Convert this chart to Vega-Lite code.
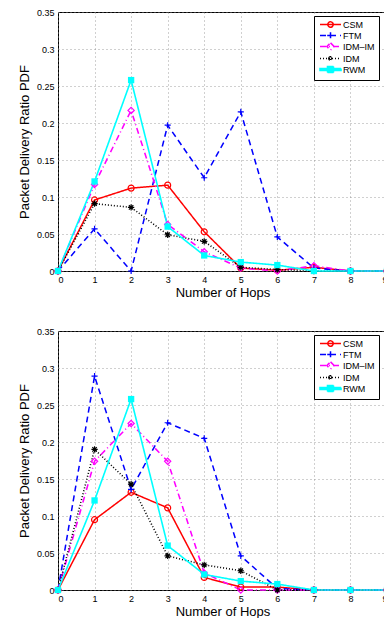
{
  "$schema": "https://vega.github.io/schema/vega-lite/v6.json",
  "autosize": {"type": "pad"},
  "padding": {"left": 17, "top": 7, "right": 0, "bottom": 0},
  "background": "white",
  "bounds": "flush",
  "spacing": 60,
  "datasets": {
    "top": [
      {"hops":0,"pdr":0,"model":"CSM"},{"hops":1,"pdr":0.096,"model":"CSM"},{"hops":2,"pdr":0.112,"model":"CSM"},{"hops":3,"pdr":0.116,"model":"CSM"},{"hops":4,"pdr":0.053,"model":"CSM"},{"hops":5,"pdr":0.004,"model":"CSM"},{"hops":6,"pdr":0.001,"model":"CSM"},{"hops":7,"pdr":0.005,"model":"CSM"},{"hops":8,"pdr":0,"model":"CSM"},{"hops":9,"pdr":0,"model":"CSM"},
      {"hops":0,"pdr":0,"model":"FTM"},{"hops":1,"pdr":0.057,"model":"FTM"},{"hops":2,"pdr":0,"model":"FTM"},{"hops":3,"pdr":0.197,"model":"FTM"},{"hops":4,"pdr":0.126,"model":"FTM"},{"hops":5,"pdr":0.215,"model":"FTM"},{"hops":6,"pdr":0.046,"model":"FTM"},{"hops":7,"pdr":0.004,"model":"FTM"},{"hops":8,"pdr":0,"model":"FTM"},{"hops":9,"pdr":0,"model":"FTM"},
      {"hops":0,"pdr":0,"model":"IDM–IM"},{"hops":1,"pdr":0.117,"model":"IDM–IM"},{"hops":2,"pdr":0.217,"model":"IDM–IM"},{"hops":3,"pdr":0.063,"model":"IDM–IM"},{"hops":4,"pdr":0.026,"model":"IDM–IM"},{"hops":5,"pdr":0.004,"model":"IDM–IM"},{"hops":6,"pdr":0,"model":"IDM–IM"},{"hops":7,"pdr":0.007,"model":"IDM–IM"},{"hops":8,"pdr":0,"model":"IDM–IM"},{"hops":9,"pdr":0,"model":"IDM–IM"},
      {"hops":0,"pdr":0,"model":"IDM"},{"hops":1,"pdr":0.091,"model":"IDM"},{"hops":2,"pdr":0.086,"model":"IDM"},{"hops":3,"pdr":0.049,"model":"IDM"},{"hops":4,"pdr":0.04,"model":"IDM"},{"hops":5,"pdr":0.005,"model":"IDM"},{"hops":6,"pdr":0.002,"model":"IDM"},{"hops":7,"pdr":0,"model":"IDM"},{"hops":8,"pdr":0,"model":"IDM"},{"hops":9,"pdr":0,"model":"IDM"},
      {"hops":0,"pdr":0,"model":"RWM"},{"hops":1,"pdr":0.121,"model":"RWM"},{"hops":2,"pdr":0.258,"model":"RWM"},{"hops":3,"pdr":0.06,"model":"RWM"},{"hops":4,"pdr":0.021,"model":"RWM"},{"hops":5,"pdr":0.012,"model":"RWM"},{"hops":6,"pdr":0.008,"model":"RWM"},{"hops":7,"pdr":0,"model":"RWM"},{"hops":8,"pdr":0,"model":"RWM"},{"hops":9,"pdr":0,"model":"RWM"}
    ],
    "bottom": [
      {"hops":0,"pdr":0,"model":"CSM"},{"hops":1,"pdr":0.095,"model":"CSM"},{"hops":2,"pdr":0.132,"model":"CSM"},{"hops":3,"pdr":0.111,"model":"CSM"},{"hops":4,"pdr":0.017,"model":"CSM"},{"hops":5,"pdr":0.004,"model":"CSM"},{"hops":6,"pdr":0.004,"model":"CSM"},{"hops":7,"pdr":0,"model":"CSM"},{"hops":8,"pdr":0,"model":"CSM"},{"hops":9,"pdr":0,"model":"CSM"},
      {"hops":0,"pdr":0,"model":"FTM"},{"hops":1,"pdr":0.289,"model":"FTM"},{"hops":2,"pdr":0.136,"model":"FTM"},{"hops":3,"pdr":0.226,"model":"FTM"},{"hops":4,"pdr":0.205,"model":"FTM"},{"hops":5,"pdr":0.046,"model":"FTM"},{"hops":6,"pdr":0.002,"model":"FTM"},{"hops":7,"pdr":0,"model":"FTM"},{"hops":8,"pdr":0,"model":"FTM"},{"hops":9,"pdr":0,"model":"FTM"},
      {"hops":0,"pdr":0,"model":"IDM–IM"},{"hops":1,"pdr":0.174,"model":"IDM–IM"},{"hops":2,"pdr":0.225,"model":"IDM–IM"},{"hops":3,"pdr":0.174,"model":"IDM–IM"},{"hops":4,"pdr":0.023,"model":"IDM–IM"},{"hops":5,"pdr":0,"model":"IDM–IM"},{"hops":6,"pdr":0,"model":"IDM–IM"},{"hops":7,"pdr":0,"model":"IDM–IM"},{"hops":8,"pdr":0,"model":"IDM–IM"},{"hops":9,"pdr":0,"model":"IDM–IM"},
      {"hops":0,"pdr":0,"model":"IDM"},{"hops":1,"pdr":0.19,"model":"IDM"},{"hops":2,"pdr":0.143,"model":"IDM"},{"hops":3,"pdr":0.046,"model":"IDM"},{"hops":4,"pdr":0.034,"model":"IDM"},{"hops":5,"pdr":0.026,"model":"IDM"},{"hops":6,"pdr":0,"model":"IDM"},{"hops":7,"pdr":0,"model":"IDM"},{"hops":8,"pdr":0,"model":"IDM"},{"hops":9,"pdr":0,"model":"IDM"},
      {"hops":0,"pdr":0,"model":"RWM"},{"hops":1,"pdr":0.121,"model":"RWM"},{"hops":2,"pdr":0.258,"model":"RWM"},{"hops":3,"pdr":0.06,"model":"RWM"},{"hops":4,"pdr":0.021,"model":"RWM"},{"hops":5,"pdr":0.012,"model":"RWM"},{"hops":6,"pdr":0.008,"model":"RWM"},{"hops":7,"pdr":0,"model":"RWM"},{"hops":8,"pdr":0,"model":"RWM"},{"hops":9,"pdr":0,"model":"RWM"}
    ]
  },
  "vconcat": [
    {
      "data": {"name": "top"},
      "width": 329, "height": 259,
      "encoding": {
        "x": {"field": "hops", "type": "quantitative", "scale": {"domain": [0, 9], "nice": false}, "axis": {"title": "Number of Hops", "values": [0,1,2,3,4,5,6,7,8,9], "format": "d"}},
        "y": {"field": "pdr", "type": "quantitative", "scale": {"domain": [0, 0.35], "nice": false}, "axis": {"title": "Packet Delivery Ratio PDF", "values": [0,0.05,0.1,0.15,0.2,0.25,0.3,0.35], "format": ".2~f"}}
      },
      "layer": [
        {
          "mark": {"type": "line"},
          "encoding": {
            "color": {"field": "model", "type": "nominal", "scale": {"domain": ["CSM","FTM","IDM–IM","IDM","RWM"], "range": ["#ff0000","#0000ff","#ff00ff","#000000","#00ffff"]},
              "legend": {"title": null, "orient": "none", "legendX": 256, "legendY": 4, "symbolSize": 36, "symbolStrokeWidth": 1.3, "labelOffset": 16, "rowPadding": -3.5,
                "encode": {"symbols": {"update": {
                  "shape": {"signal": "datum.value==='CSM'?'M-0.83,0L6.17,0M3.57,0A0.9,0.9 0 1,1 1.77,0A0.9,0.9 0 1,1 3.57,0':datum.value==='FTM'?'M-0.83,0L6.17,0M1.57,0L3.77,0M2.67,-1.1L2.67,1.1':datum.value==='IDM–IM'?'M-0.83,0L6.17,0M2.67,-1.2L3.87,0L2.67,1.2L1.47,0Z':datum.value==='IDM'?'M-0.83,0L6.17,0M1.87,0L3.47,0M2.67,-0.8L2.67,0.8M2.1,-0.57L3.24,0.57M2.1,0.57L3.24,-0.57':'M-0.83,-0.35L6.17,-0.35L6.17,0.35L-0.83,0.35ZM1.67,-1L3.67,-1L3.67,1L1.67,1Z'"},
                  "stroke": {"signal": "datum.value==='CSM'?'#ff0000':datum.value==='FTM'?'#0000ff':datum.value==='IDM–IM'?'#ff00ff':datum.value==='IDM'?'#000000':'#00ffff'"},
                  "strokeDash": {"signal": "datum.value==='FTM'?[5,3]:datum.value==='IDM–IM'?[5,2,1,2]:datum.value==='IDM'?[1,2]:[1,0]"},
                  "strokeWidth": {"value": 1.3},
                  "fill": {"signal": "datum.value==='RWM'?'#00ffff':'transparent'"},
                  "size": {"value": 36}
                }}}}},
            "strokeDash": {"field": "model", "type": "nominal", "scale": {"domain": ["CSM","FTM","IDM–IM","IDM","RWM"], "range": [[1,0],[6,4],[6,3,1,3],[1,2],[1,0]]}, "legend": null},
            "strokeWidth": {"field": "model", "type": "nominal", "scale": {"domain": ["CSM","FTM","IDM–IM","IDM","RWM"], "range": [1.5,1.6,1.3,0.7,3]}, "legend": null}
          }
        },
        {
          "transform": [{"filter": "datum.model !== 'RWM'"}],
          "mark": {"type": "point", "filled": false, "opacity": 1, "strokeWidth": 1.2},
          "encoding": {
            "stroke": {"field": "model", "type": "nominal", "scale": {"domain": ["CSM","FTM","IDM–IM","IDM"], "range": ["#ff0000","#0000ff","#ff00ff","#000000"]}, "legend": null},
            "shape": {"field": "model", "type": "nominal", "scale": {"domain": ["CSM","FTM","IDM–IM","IDM"], "range": ["circle","M-1,0L1,0M0,-1L0,1","diamond","M-1,0L1,0M0,-1L0,1M-0.7,-0.7L0.7,0.7M-0.7,0.7L0.7,-0.7"]}, "legend": null},
            "size": {"field": "model", "type": "nominal", "scale": {"domain": ["CSM","FTM","IDM–IM","IDM"], "range": [36,40,45,18]}, "legend": null}
          }
        },
        {
          "transform": [{"filter": "datum.model === 'RWM'"}],
          "mark": {"type": "point", "filled": true, "shape": "square", "size": 40, "opacity": 1, "color": "#00ffff"}
        }
      ]
    },
    {
      "data": {"name": "bottom"},
      "width": 329, "height": 259,
      "encoding": {
        "x": {"field": "hops", "type": "quantitative", "scale": {"domain": [0, 9], "nice": false}, "axis": {"title": "Number of Hops", "values": [0,1,2,3,4,5,6,7,8,9], "format": "d"}},
        "y": {"field": "pdr", "type": "quantitative", "scale": {"domain": [0, 0.35], "nice": false}, "axis": {"title": "Packet Delivery Ratio PDF", "values": [0,0.05,0.1,0.15,0.2,0.25,0.3,0.35], "format": ".2~f"}}
      },
      "layer": [
        {
          "mark": {"type": "line"},
          "encoding": {
            "color": {"field": "model", "type": "nominal", "scale": {"domain": ["CSM","FTM","IDM–IM","IDM","RWM"], "range": ["#ff0000","#0000ff","#ff00ff","#000000","#00ffff"]},
              "legend": {"title": null, "orient": "none", "legendX": 256, "legendY": 4, "symbolSize": 36, "symbolStrokeWidth": 1.3, "labelOffset": 16, "rowPadding": -3.5,
                "encode": {"symbols": {"update": {
                  "shape": {"signal": "datum.value==='CSM'?'M-0.83,0L6.17,0M3.57,0A0.9,0.9 0 1,1 1.77,0A0.9,0.9 0 1,1 3.57,0':datum.value==='FTM'?'M-0.83,0L6.17,0M1.57,0L3.77,0M2.67,-1.1L2.67,1.1':datum.value==='IDM–IM'?'M-0.83,0L6.17,0M2.67,-1.2L3.87,0L2.67,1.2L1.47,0Z':datum.value==='IDM'?'M-0.83,0L6.17,0M1.87,0L3.47,0M2.67,-0.8L2.67,0.8M2.1,-0.57L3.24,0.57M2.1,0.57L3.24,-0.57':'M-0.83,-0.35L6.17,-0.35L6.17,0.35L-0.83,0.35ZM1.67,-1L3.67,-1L3.67,1L1.67,1Z'"},
                  "stroke": {"signal": "datum.value==='CSM'?'#ff0000':datum.value==='FTM'?'#0000ff':datum.value==='IDM–IM'?'#ff00ff':datum.value==='IDM'?'#000000':'#00ffff'"},
                  "strokeDash": {"signal": "datum.value==='FTM'?[5,3]:datum.value==='IDM–IM'?[5,2,1,2]:datum.value==='IDM'?[1,2]:[1,0]"},
                  "strokeWidth": {"value": 1.3},
                  "fill": {"signal": "datum.value==='RWM'?'#00ffff':'transparent'"},
                  "size": {"value": 36}
                }}}}},
            "strokeDash": {"field": "model", "type": "nominal", "scale": {"domain": ["CSM","FTM","IDM–IM","IDM","RWM"], "range": [[1,0],[6,4],[6,3,1,3],[1,2],[1,0]]}, "legend": null},
            "strokeWidth": {"field": "model", "type": "nominal", "scale": {"domain": ["CSM","FTM","IDM–IM","IDM","RWM"], "range": [1.5,1.6,1.3,0.7,3]}, "legend": null}
          }
        },
        {
          "transform": [{"filter": "datum.model !== 'RWM'"}],
          "mark": {"type": "point", "filled": false, "opacity": 1, "strokeWidth": 1.2},
          "encoding": {
            "stroke": {"field": "model", "type": "nominal", "scale": {"domain": ["CSM","FTM","IDM–IM","IDM"], "range": ["#ff0000","#0000ff","#ff00ff","#000000"]}, "legend": null},
            "shape": {"field": "model", "type": "nominal", "scale": {"domain": ["CSM","FTM","IDM–IM","IDM"], "range": ["circle","M-1,0L1,0M0,-1L0,1","diamond","M-1,0L1,0M0,-1L0,1M-0.7,-0.7L0.7,0.7M-0.7,0.7L0.7,-0.7"]}, "legend": null},
            "size": {"field": "model", "type": "nominal", "scale": {"domain": ["CSM","FTM","IDM–IM","IDM"], "range": [36,40,45,18]}, "legend": null}
          }
        },
        {
          "transform": [{"filter": "datum.model === 'RWM'"}],
          "mark": {"type": "point", "filled": true, "shape": "square", "size": 40, "opacity": 1, "color": "#00ffff"}
        }
      ]
    }
  ],
  "resolve": {"scale": {"color": "independent", "stroke": "independent", "strokeDash": "independent", "strokeWidth": "independent", "shape": "independent", "size": "independent"}, "legend": {"color": "independent"}},
  "config": {
    "font": "Liberation Sans",
    "view": {"stroke": "#000000", "strokeWidth": 1},
    "axis": {"grid": true, "gridColor": "#888888", "gridDash": [1, 3], "gridWidth": 0.8, "domain": false, "ticks": false, "labelFontSize": 9, "labelColor": "#000000", "labelPadding": 4, "titleFontSize": 13, "titleFontWeight": "normal", "titleColor": "#000000"},
    "axisX": {"titlePadding": 2},
    "axisY": {"titlePadding": 5},
    "legend": {"labelFontSize": 9, "labelColor": "#000000", "padding": 4, "strokeColor": "#000000", "fillColor": "#ffffff"}
  }
}
